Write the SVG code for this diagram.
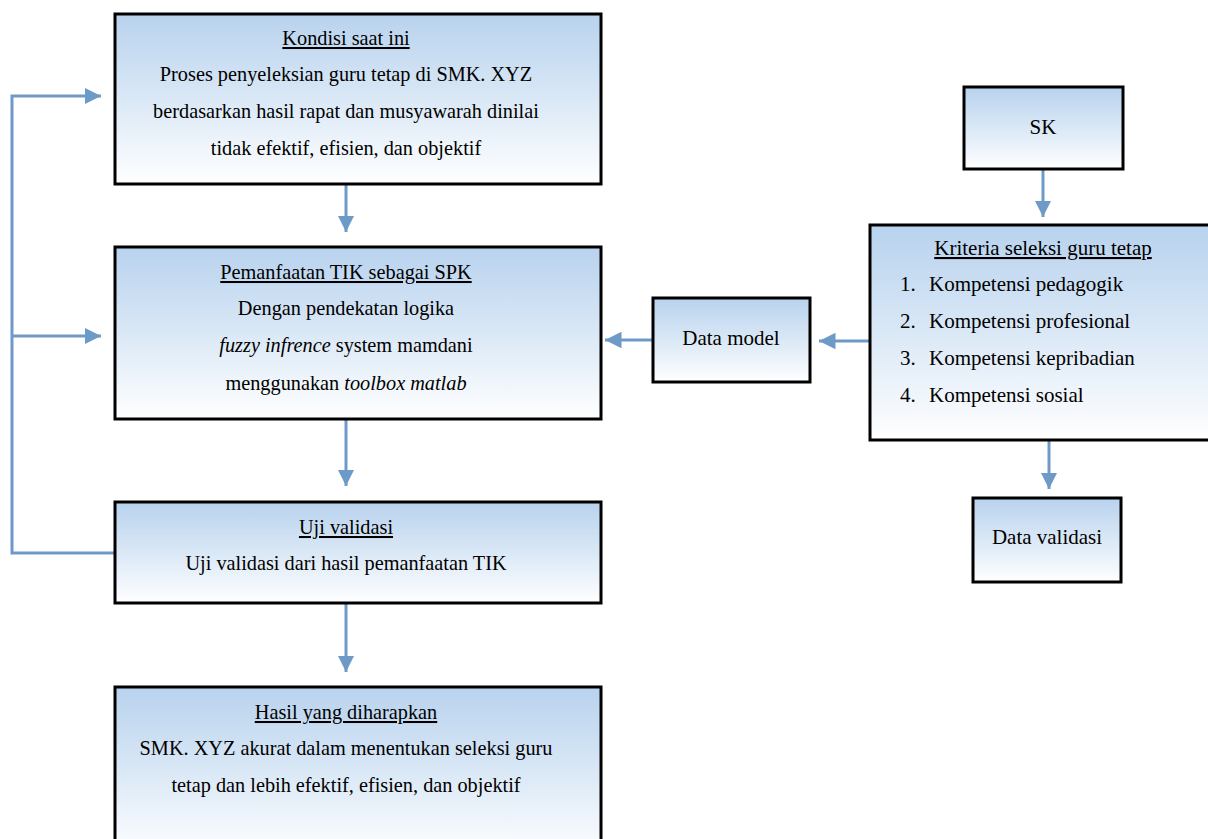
<svg xmlns="http://www.w3.org/2000/svg" width="1208" height="839" viewBox="0 0 1208 839">
<style>
.box{fill:url(#g);stroke:#000;stroke-width:3}
.t{font-family:'Liberation Serif','Times New Roman','DejaVu Serif',serif;font-size:20.3px;fill:#000}
.r{font-size:21px}
.c{text-anchor:middle}
.u{text-decoration:underline}
.ln{fill:none;stroke:#6e9ac7;stroke-width:3}
</style>
<defs>
<linearGradient id="g" x1="0" y1="0" x2="0" y2="1">
<stop offset="0" stop-color="#b8d2ee"/>
<stop offset="0.5" stop-color="#dae8f6"/>
<stop offset="1" stop-color="#ffffff"/>
</linearGradient>
<marker id="a" viewBox="0 0 10 10" refX="10" refY="5" markerWidth="5.5" markerHeight="5.5" orient="auto" markerUnits="strokeWidth">
<path d="M0,0L10,5L0,10z" fill="#6e9ac7"/>
</marker>
</defs>
<g id="connectors">
<path class="ln" d="M346,185V232" marker-end="url(#a)"/>
<path class="ln" d="M346,420V486" marker-end="url(#a)"/>
<path class="ln" d="M346,604V672" marker-end="url(#a)"/>
<path class="ln" d="M114,553H12V96H101" marker-end="url(#a)"/>
<path class="ln" d="M12,336H101" marker-end="url(#a)"/>
<path class="ln" d="M1043,170V217" marker-end="url(#a)"/>
<path class="ln" d="M869,341H819" marker-end="url(#a)"/>
<path class="ln" d="M652,340H605" marker-end="url(#a)"/>
<path class="ln" d="M1049,441V489" marker-end="url(#a)"/>
</g>
<g id="kondisi">
<rect class="box" x="115" y="14" width="486" height="170"/>
<text class="t c u" x="346" y="45">Kondisi saat ini</text>
<text class="t c" x="346" y="81">Proses penyeleksian guru tetap di SMK. XYZ</text>
<text class="t c" x="346" y="118">berdasarkan hasil rapat dan musyawarah dinilai</text>
<text class="t c" x="346" y="155">tidak efektif, efisien, dan objektif</text>
</g>
<g id="pemanfaatan">
<rect class="box" x="115" y="247" width="486" height="172"/>
<text class="t c u" x="346" y="279">Pemanfaatan TIK sebagai SPK</text>
<text class="t c" x="346" y="315">Dengan pendekatan logika</text>
<text class="t c" x="346" y="352"><tspan font-style="italic">fuzzy infrence</tspan> system mamdani</text>
<text class="t c" x="346" y="390">menggunakan <tspan font-style="italic">toolbox matlab</tspan></text>
</g>
<g id="uji">
<rect class="box" x="115" y="502" width="486" height="101"/>
<text class="t c u" x="346" y="534">Uji validasi</text>
<text class="t c" x="346" y="570">Uji validasi dari hasil pemanfaatan TIK</text>
</g>
<g id="hasil">
<rect class="box" x="115" y="687" width="486" height="170"/>
<text class="t c u" x="346" y="719">Hasil yang diharapkan</text>
<text class="t c" x="346" y="755">SMK. XYZ akurat dalam menentukan seleksi guru</text>
<text class="t c" x="346" y="792">tetap dan lebih efektif, efisien, dan objektif</text>
</g>
<g id="sk">
<rect class="box" x="964" y="87" width="159" height="82"/>
<text class="t r c" x="1043" y="134">SK</text>
</g>
<g id="kriteria">
<rect class="box" x="870" y="225" width="350" height="215"/>
<text class="t r c u" x="1043" y="255">Kriteria seleksi guru tetap</text>
<text class="t r" x="900" y="291">1.</text><text class="t r" x="929" y="291">Kompetensi pedagogik</text>
<text class="t r" x="900" y="328">2.</text><text class="t r" x="929" y="328">Kompetensi profesional</text>
<text class="t r" x="900" y="365">3.</text><text class="t r" x="929" y="365">Kompetensi kepribadian</text>
<text class="t r" x="900" y="402">4.</text><text class="t r" x="929" y="402">Kompetensi sosial</text>
</g>
<g id="datamodel">
<rect class="box" x="653" y="298" width="157" height="84"/>
<text class="t r c" x="731" y="345">Data model</text>
</g>
<g id="datavalidasi">
<rect class="box" x="973" y="498" width="148" height="84"/>
<text class="t r c" x="1047" y="544">Data validasi</text>
</g>
</svg>
